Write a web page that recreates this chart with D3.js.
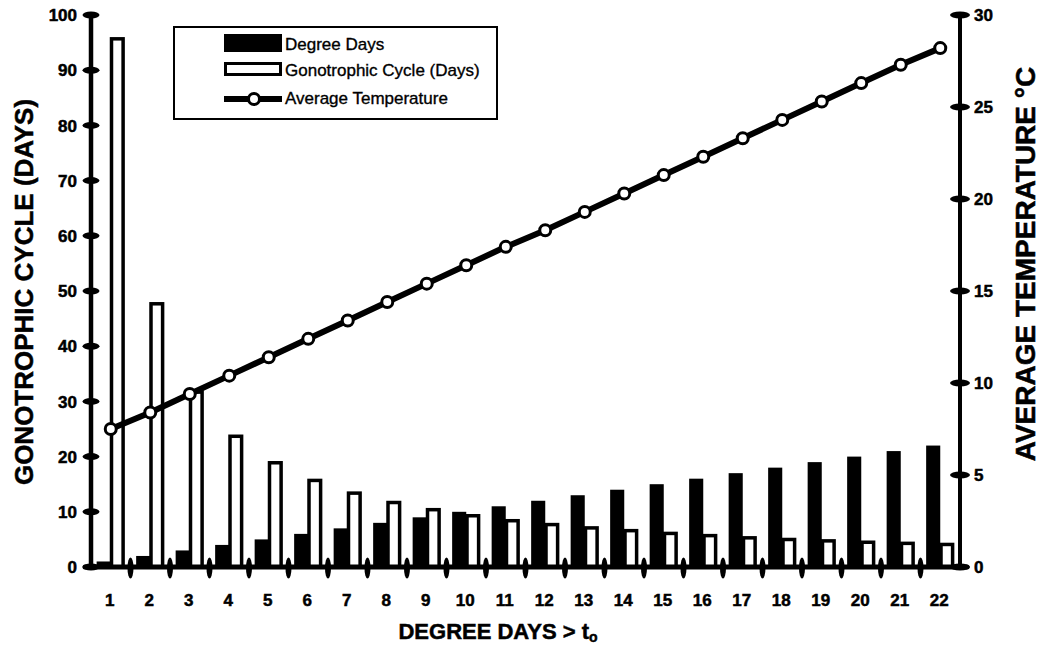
<!DOCTYPE html>
<html>
<head>
<meta charset="utf-8">
<script src="https://cdn.jsdelivr.net/npm/d3@7"></script>
<style>
  html, body { margin: 0; padding: 0; background: #fff; }
  svg { display: block; }
  text { font-family: "Liberation Sans", Arial, Helvetica, sans-serif; fill: #000; }
  .heavy { stroke: #000; stroke-width: 0.5px; }
  .leg { stroke: #000; stroke-width: 0.35px; }
</style>
</head>
<body>
<svg id="chart" width="1043" height="646"></svg>
<script>
const categories = ["1","2","3","4","5","6","7","8","9","10","11","12","13","14","15","16","17","18","19","20","21","22"];
const degreeDays = [1,2,3,4,5,6,7,8,9,10,11,12,13,14,15,16,17,18,19,20,21,22];
const gonoCycle = [96,48,32,24,19.2,16,13.7,12,10.7,9.6,8.7,8,7.4,6.9,6.4,6,5.6,5.3,5.05,4.8,4.6,4.4];
const avgTemp = [7.5,8.4,9.4,10.4,11.4,12.4,13.4,14.4,15.4,16.4,17.4,18.3,19.3,20.3,21.3,22.3,23.3,24.3,25.3,26.3,27.3,28.2];
const leftTicks = [0,10,20,30,40,50,60,70,80,90,100];
const rightTicks = [0,5,10,15,20,25,30];
const legendLabels = ["Degree Days","Gonotrophic Cycle (Days)","Average Temperature"];

const svg = d3.select("#chart");
const X0 = 91, X1 = 960, Y0 = 567, Y1 = 15;

const x = d3.scaleBand().domain(categories).range([X0, X1]).padding(0);
const x1 = d3.scaleBand().domain(["dd","gc"]).range([0, x.bandwidth()]).paddingInner(0).paddingOuter(0.4);
const yL = d3.scaleLinear().domain([0,100]).range([Y0, Y1]);
const yR = d3.scaleLinear().domain([0,30]).range([Y0, Y1]);

const data = categories.map((c,i) => ({c, dd: degreeDays[i], gc: gonoCycle[i], t: avgTemp[i]}));

// Degree days bars (black)
svg.append("g").selectAll("rect").data(data).join("rect")
  .attr("x", d => x(d.c) + x1("dd"))
  .attr("y", d => yL(d.dd))
  .attr("width", x1.bandwidth())
  .attr("height", d => yL(0) - yL(d.dd))
  .attr("fill", "#000");

// Gonotrophic cycle bars (white with black outline)
const sw = 3.5;
svg.append("g").selectAll("rect").data(data).join("rect")
  .attr("x", d => x(d.c) + x1("gc") + sw/2 - 1)
  .attr("y", d => yL(d.gc) + sw/2)
  .attr("width", x1.bandwidth() - sw + 1)
  .attr("height", d => yL(0) - yL(d.gc) - sw/2)
  .attr("fill", "#fff")
  .attr("stroke", "#000")
  .attr("stroke-width", sw);

// Temperature line
const line = d3.line().x(d => x(d.c) + x.bandwidth()/2).y(d => yR(d.t));
svg.append("path").datum(data).attr("d", line)
  .attr("fill", "none").attr("stroke", "#000").attr("stroke-width", 6);
svg.append("g").selectAll("circle").data(data).join("circle")
  .attr("cx", d => x(d.c) + x.bandwidth()/2)
  .attr("cy", d => yR(d.t))
  .attr("r", 5.5)
  .attr("fill", "#fff").attr("stroke", "#000").attr("stroke-width", 3);

// Axes lines
svg.append("line").attr("x1", X0).attr("x2", X0).attr("y1", yL(100)).attr("y2", Y0)
  .attr("stroke", "#000").attr("stroke-width", 4.5);
svg.append("line").attr("x1", X1).attr("x2", X1).attr("y1", yR(30)).attr("y2", Y0)
  .attr("stroke", "#000").attr("stroke-width", 4);
svg.append("line").attr("x1", 85).attr("x2", 967).attr("y1", Y0).attr("y2", Y0)
  .attr("stroke", "#000").attr("stroke-width", 5).attr("stroke-linecap", "round");

// Left axis ticks and labels
const gL = svg.append("g");
gL.selectAll("ellipse").data(leftTicks).join("ellipse")
  .attr("cx", X0).attr("cy", d => yL(d)).attr("rx", 8.5).attr("ry", 3.5).attr("fill", "#000");
gL.selectAll("text").data(leftTicks).join("text").attr("class", "heavy")
  .attr("x", 77).attr("y", d => yL(d)).attr("dy", "0.36em")
  .attr("text-anchor", "end").attr("font-size", 17).attr("font-weight", "bold")
  .text(d => d);

// Right axis ticks and labels
const gR = svg.append("g");
gR.selectAll("ellipse").data(rightTicks).join("ellipse")
  .attr("cx", X1).attr("cy", d => yR(d)).attr("rx", 10).attr("ry", 3.5).attr("fill", "#000");
gR.selectAll("text").data(rightTicks).join("text").attr("class", "heavy")
  .attr("x", 974).attr("y", d => yR(d)).attr("dy", "0.36em")
  .attr("text-anchor", "start").attr("font-size", 17).attr("font-weight", "bold")
  .text(d => d);

// X axis ticks at band boundaries and labels
const bounds = categories.slice(1).map(c => x(c));
svg.append("g").selectAll("ellipse").data(bounds).join("ellipse")
  .attr("cx", d => d).attr("cy", Y0 + 1).attr("rx", 3).attr("ry", 10.5).attr("fill", "#000");
svg.append("g").selectAll("text").data(categories).join("text").attr("class", "heavy")
  .attr("x", d => x(d) + x.bandwidth()/2 - 1).attr("y", 606)
  .attr("text-anchor", "middle").attr("font-size", 17).attr("font-weight", "bold")
  .text(d => d);

// Axis titles
svg.append("text").attr("class", "heavy").attr("transform", "translate(33,292) rotate(-90)")
  .attr("text-anchor", "middle").attr("font-size", 26).attr("font-weight", "bold")
  .text("GONOTROPHIC CYCLE (DAYS)");
svg.append("text").attr("class", "heavy").attr("transform", "translate(1035,264) rotate(-90)")
  .attr("text-anchor", "middle").attr("font-size", 28).attr("font-weight", "bold")
  .text("AVERAGE TEMPERATURE °C");
const xt = svg.append("text").attr("class", "heavy").attr("x", 498).attr("y", 639)
  .attr("text-anchor", "middle").attr("font-size", 22).attr("font-weight", "bold");
xt.append("tspan").text("DEGREE DAYS > t");
xt.append("tspan").attr("font-size", 14).attr("dy", 3).text("o");

// Legend
const lg = svg.append("g");
lg.append("rect").attr("x", 174).attr("y", 27).attr("width", 323).attr("height", 92)
  .attr("fill", "#fff").attr("stroke", "#000").attr("stroke-width", 2);
lg.append("rect").attr("x", 224).attr("y", 34).attr("width", 58).attr("height", 18).attr("fill", "#000");
lg.append("rect").attr("x", 225.5).attr("y", 63.5).attr("width", 55).attr("height", 11)
  .attr("fill", "#fff").attr("stroke", "#000").attr("stroke-width", 3);
lg.append("line").attr("x1", 224).attr("x2", 282).attr("y1", 99).attr("y2", 99)
  .attr("stroke", "#000").attr("stroke-width", 6);
lg.append("circle").attr("cx", 254).attr("cy", 99).attr("r", 5.5)
  .attr("fill", "#fff").attr("stroke", "#000").attr("stroke-width", 3);
const ly = [50, 76, 104];
lg.selectAll("text.leg").data(legendLabels).join("text").attr("class", "leg")
  .attr("x", 285).attr("y", (d,i) => ly[i]).attr("font-size", 17)
  .text(d => d);
</script>
</body>
</html>
